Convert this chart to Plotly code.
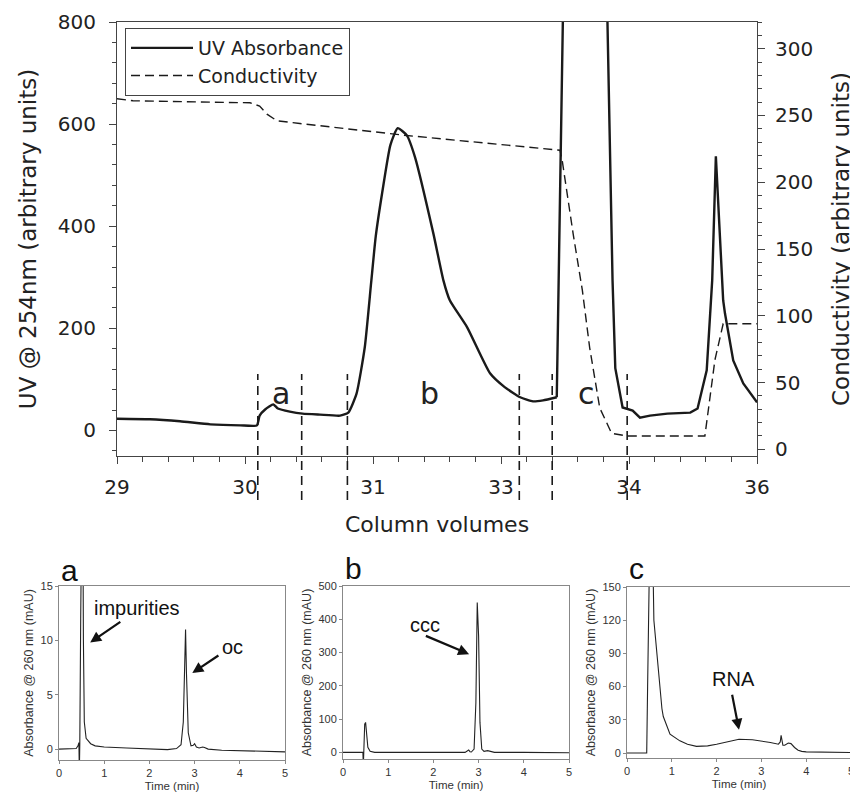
import plotly.graph_objects as go

# ---------------- main chromatogram data ----------------
cv_ticks = [29, 30.4, 31.8, 33.2, 34.6, 36]
cv_ticktext = ["29", "30", "31", "33", "34", "36"]

uv_x = [29.00, 29.36, 29.69, 30.02, 30.35, 30.53, 30.56, 30.62, 30.71, 30.76,
        30.89, 31.03, 31.22, 31.44, 31.53, 31.62, 31.71, 31.78, 31.83, 31.90,
        31.99, 32.07, 32.17, 32.26, 32.46, 32.57, 32.64, 32.83, 33.08, 33.24,
        33.41, 33.55, 33.66, 33.81, 33.88, 34.36, 34.42, 34.45, 34.53, 34.64,
        34.72, 34.83, 35.02, 35.27, 35.35, 35.45, 35.51, 35.55, 35.63, 35.65,
        35.74, 35.85, 36.00]
uv_y = [23, 22, 18, 12, 10, 10, 29, 41, 51, 43,
        37, 33, 31, 29, 35, 72, 163, 290, 380, 465,
        559, 592, 578, 535, 386, 294, 255, 202, 112, 85,
        65, 57, 59, 65, 840, 840, 294, 122, 45, 39,
        25, 29, 33, 35, 43, 118, 294, 537, 255, 229,
        137, 92, 55]
# the broad part of the trace is smooth; from the sharp rise onward it is drawn with straight segments
smooth_end = 33

cond_x = [29.00, 29.175, 30.455, 30.56, 30.64, 30.75, 31.00, 32.17, 33.845, 33.87,
          33.99, 34.09, 34.17, 34.28, 34.41, 34.58, 35.43, 35.54, 35.63, 35.74, 36.00]
cond_y = [262.5, 261, 259.5, 257, 251, 246, 244, 235, 224, 216,
          161, 119, 76, 31, 12, 10, 10, 67, 94, 94, 94]

fraction_cuts = [30.54, 31.02, 31.52, 33.40, 33.76, 34.58]
fraction_labels = ["a", "b", "c"]
fraction_label_x = [30.79, 32.42, 34.13]
fraction_label_y = 72

# ---------------- HPLC panels ----------------
t_a = [0, 0.2, 0.38, 0.42, 0.44, 0.45, 0.46, 0.48, 0.5, 0.52, 0.54, 0.56, 0.6, 0.7,
       0.8, 1.0, 1.5, 2.0, 2.4, 2.6, 2.7, 2.75, 2.78, 2.8, 2.82, 2.86, 2.92, 2.97,
       3.0, 3.04, 3.1, 3.18, 3.22, 3.3, 3.6, 4.0, 4.5, 5.0]
A_a = [0, 0, 0.05, 0.3, 0.6, -2, 0.4, 12, 30, 30, 10, 2.5, 1.0, 0.5,
       0.3, 0.2, 0.1, 0.0, -0.05, 0.05, 0.4, 2.5, 8, 11, 7, 1.5, 0.3, 0.35,
       0.5, 0.2, 0.1, 0.2, 0.15, 0.0, -0.1, -0.15, -0.2, -0.25]

t_b = [0, 0.3, 0.44, 0.45, 0.46, 0.47, 0.48, 0.5, 0.52, 0.55, 0.6, 0.7, 1.0, 2.0,
       2.7, 2.78, 2.81, 2.84, 2.9, 2.94, 2.97, 3.0, 3.03, 3.07, 3.12, 3.2, 3.25,
       3.35, 4.0, 5.0]
A_b = [0, 0, 0, -40, 0, 30, 85, 90, 60, 15, 3, 0, 0, -1,
       0, 7, 2, 1, 10, 150, 450, 350, 90, 10, 3, 5, 3,
       0, 0, -1]

t_c = [0, 0.3, 0.44, 0.46, 0.5, 0.54, 0.58, 0.6, 0.66, 0.7, 0.74, 0.78, 0.81, 0.85,
       0.89, 0.96, 1.18, 1.35, 1.55, 1.8, 2.0, 2.3, 2.5, 2.8, 3.0, 3.2, 3.38, 3.42,
       3.44, 3.48, 3.52, 3.6, 3.66, 3.74, 3.82, 3.9, 4.0, 4.5, 5.0]
A_c = [0, 0, 0, 60, 170, 200, 170, 120, 93, 70, 51, 40, 33, 29,
       24, 17, 11, 8, 6, 6.5, 8, 11, 12.5, 12, 11, 9.5, 8, 10,
       16, 7, 7, 9, 8.5, 5, 2.5, 1.5, 1, 0.7, 0.5]

# the page body adds an 8px margin, so the figure is 8px smaller each way
OFF = 8
W, H = 858 - OFF, 798 - OFF
MAIN_FONT = "DejaVu Sans"
SMALL_FONT = "Liberation Sans, Arial"
INK = "#1a1a1a"

fig = go.Figure()

fig.add_trace(go.Scatter(x=uv_x[:smooth_end + 1], y=uv_y[:smooth_end + 1], mode="lines",
                         name="UV Absorbance", legendgroup="uv",
                         line=dict(color=INK, width=2.4, shape="spline", smoothing=0.5),
                         xaxis="x", yaxis="y"))
fig.add_trace(go.Scatter(x=uv_x[smooth_end:], y=uv_y[smooth_end:], mode="lines",
                         name="UV Absorbance", legendgroup="uv", showlegend=False,
                         line=dict(color=INK, width=2.4),
                         xaxis="x", yaxis="y"))
fig.add_trace(go.Scatter(x=cond_x, y=cond_y, mode="lines", name="Conductivity",
                         line=dict(color=INK, width=1.4, dash="9px,5px"),
                         xaxis="x", yaxis="y2"))

for t, A, xa, ya in [(t_a, A_a, "x3", "y3"), (t_b, A_b, "x4", "y4"), (t_c, A_c, "x5", "y5")]:
    fig.add_trace(go.Scatter(x=t, y=A, mode="lines", showlegend=False,
                             line=dict(color="#222", width=1.1), xaxis=xa, yaxis=ya))

def px_x(p):
    return (p - OFF) / W

def px_y(p):
    return 1 - (p - OFF) / H

axis_main = dict(showline=True, linecolor="#444", linewidth=1, ticks="outside",
                 tickcolor="#444", ticklen=7, showgrid=False, zeroline=False,
                 automargin=False,
                 tickfont=dict(family=MAIN_FONT, size=20, color="#222"))

small_x = dict(range=[0, 5], tickvals=[0, 1, 2, 3, 4, 5], showline=True, linecolor="#888",
               linewidth=1, mirror=True, ticks="outside", ticklen=3, tickcolor="#888",
               showgrid=False, zeroline=False, automargin=False,
               tickfont=dict(family=SMALL_FONT, size=11, color="#333"),
               title=dict(text="Time (min)", font=dict(family=SMALL_FONT, size=11.5, color="#333"),
                          standoff=3))
small_y = dict(showline=True, linecolor="#888", linewidth=1, mirror=True, ticks="outside",
               ticklen=3, tickcolor="#888", showgrid=False, zeroline=False, automargin=False,
               tickfont=dict(family=SMALL_FONT, size=11, color="#333"),
               title=dict(text="Absorbance @ 260 nm (mAU)",
                          font=dict(family=SMALL_FONT, size=12.5, color="#333"), standoff=4))

fig.update_layout(
    width=W, height=H, margin=dict(l=0, r=0, t=0, b=0, autoexpand=False),
    paper_bgcolor="white", plot_bgcolor="white",
    showlegend=True,
    legend=dict(x=px_x(125), y=px_y(28), xanchor="left", yanchor="top",
                bordercolor="#444", borderwidth=1, bgcolor="white",
                font=dict(family=MAIN_FONT, size=19, color="#222"),
                itemwidth=62, tracegroupgap=0),
    xaxis=dict(axis_main, domain=[px_x(117), px_x(757)], range=[29, 36], anchor="y",
               tickvals=cv_ticks, ticktext=cv_ticktext, mirror=True,
               minor=dict(tickmode="linear", tick0=29, dtick=0.28, ticklen=5,
                          tickcolor="#444", ticks="outside"),
               ticklabelstandoff=6,
               title=dict(text="Column volumes", font=dict(family=MAIN_FONT, size=22, color="#222"),
                          standoff=18)),
    yaxis=dict(axis_main, domain=[px_y(456), px_y(22)], range=[-50, 800],
               tickvals=[0, 200, 400, 600, 800], anchor="x",
               minor=dict(tickmode="linear", tick0=0, dtick=40, ticklen=4,
                          tickcolor="#444", ticks="outside"),
               ticklabelstandoff=9,
               title=dict(text="UV @ 254nm (arbitrary units)",
                          font=dict(family=MAIN_FONT, size=23, color="#222"), standoff=14)),
    yaxis2=dict(axis_main, domain=[px_y(456), px_y(22)], range=[-5, 320], overlaying="y",
                side="right", anchor="x",
                tickvals=[0, 50, 100, 150, 200, 250, 300],
                minor=dict(tickmode="linear", tick0=0, dtick=10, ticklen=4,
                           tickcolor="#444", ticks="outside"),
                ticklabelstandoff=6,
                title=dict(text="Conductivity (arbitrary units)",
                           font=dict(family=MAIN_FONT, size=23, color="#222"), standoff=20)),
    xaxis3=dict(small_x, domain=[px_x(59), px_x(285)], anchor="y3"),
    yaxis3=dict(small_y, domain=[px_y(760), px_y(586)], range=[-1, 15],
                tickvals=[0, 5, 10, 15], anchor="x3"),
    xaxis4=dict(small_x, domain=[px_x(343), px_x(569)], anchor="y4"),
    yaxis4=dict(small_y, domain=[px_y(759), px_y(586)], range=[-20, 500],
                tickvals=[0, 100, 200, 300, 400, 500], anchor="x4"),
    xaxis5=dict(small_x, domain=[px_x(627), px_x(851)], anchor="y5"),
    yaxis5=dict(small_y, domain=[px_y(758), px_y(587)], range=[-4.5, 150],
                tickvals=[0, 30, 60, 90, 120, 150], anchor="x5"),
)

# fraction cut lines
for xc in fraction_cuts:
    fig.add_shape(type="line", xref="x", yref="paper", x0=xc, x1=xc,
                  y0=px_y(500), y1=px_y(374),
                  line=dict(color=INK, width=1.6, dash="9px,6px"))

annotations = []
for lab, lx in zip(fraction_labels, fraction_label_x):
    annotations.append(dict(x=lx, y=fraction_label_y, xref="x", yref="y", text=lab,
                            showarrow=False, font=dict(family=MAIN_FONT, size=30, color="#222")))

# panel letters
for lab, lx, ly in [("a", 59, 570), ("b", 343, 568), ("c", 627, 568)]:
    annotations.append(dict(x=px_x(lx), y=px_y(ly), xref="paper", yref="paper", text=lab,
                            showarrow=False, xanchor="left", yanchor="middle",
                            font=dict(family=SMALL_FONT, size=30, color="#111")))

# peak labels and arrows
peak_notes = [
    ("x3", "y3", "impurities", 1.73, 13.0, 0.69, 9.8, 1.39, 11.8),
    ("x3", "y3", "oc", 3.83, 9.4, 2.95, 7.0, 3.56, 8.7),
    ("x4", "y4", "ccc", 1.81, 383, 2.79, 295, 1.80, 352),
    ("x5", "y5", "RNA", 2.37, 67, 2.50, 21, 2.34, 54),
]
for xa, ya, txt, tx, ty, hx, hy, tlx, tly in peak_notes:
    annotations.append(dict(x=tx, y=ty, xref=xa, yref=ya, text=txt, showarrow=False,
                            font=dict(family=SMALL_FONT, size=20, color="#111")))
    annotations.append(dict(x=hx, y=hy, xref=xa, yref=ya, ax=tlx, ay=tly, axref=xa, ayref=ya,
                            text="", showarrow=True, arrowhead=2, arrowsize=1, arrowwidth=2.2,
                            arrowcolor="#111", standoff=0, startstandoff=0))

fig.update_layout(annotations=annotations)

fig.write_html("out.html")
